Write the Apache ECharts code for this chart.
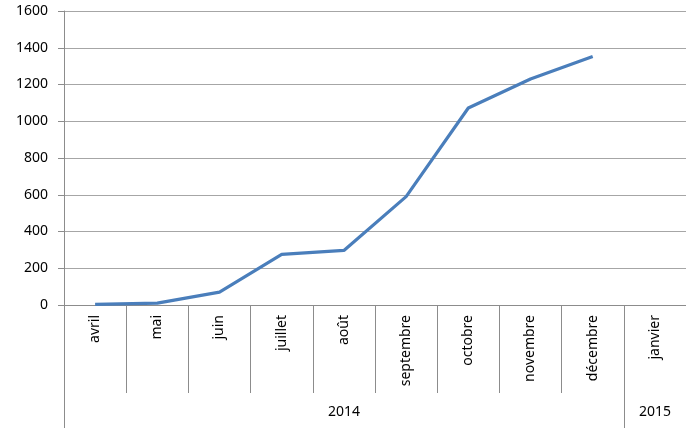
<!DOCTYPE html>
<html>
<head>
<meta charset="utf-8">
<script src="https://cdn.jsdelivr.net/npm/echarts@6/dist/echarts.min.js"></script>
<style>
  html, body { margin: 0; padding: 0; background: #fff; }
  #chart { width: 686px; height: 430px; }
</style>
</head>
<body>
<div id="chart"></div>
<script>
// Months of the period and their cumulative totals
const months = ['avril', 'mai', 'juin', 'juillet', 'août', 'septembre', 'octobre', 'novembre', 'décembre', 'janvier'];
const totals = [3, 10, 70, 276, 297, 590, 1072, 1230, 1352, null];
// Year groups on the second level of the category axis
const years = ['2014', '2015'];
const yearSpans = [9, 1];
const yTicks = [0, 200, 400, 600, 800, 1000, 1200, 1400, 1600];

const axisGray = '#8c8c8c';
const textColor = '#000';
const font = 'Noto Sans';

// Boundaries and centres of the year groups, in category units
const yearBounds = [0];
yearSpans.forEach(s => yearBounds.push(yearBounds[yearBounds.length - 1] + s));
const yearCentres = yearSpans.map((s, i) => yearBounds[i] + s / 2);
// Short separators between months (year boundaries get the long ones)
const monthBounds = months.map((m, i) => i).filter(i => i > 0 && !yearBounds.includes(i));

const chart = echarts.init(document.getElementById('chart'));
chart.setOption({
  animation: false,
  grid: { left: 64, right: 0, top: 11, bottom: 125, containLabel: false },
  xAxis: [
    {
      type: 'category',
      data: months,
      boundaryGap: true,
      axisLine: { show: true, lineStyle: { color: axisGray, width: 1 } },
      axisTick: { show: false },
      axisLabel: { interval: 0, rotate: 90, margin: 10, fontSize: 14, color: textColor, fontFamily: font },
      splitLine: { show: false }
    },
    {
      type: 'value',
      min: 0,
      max: months.length,
      position: 'bottom',
      axisLine: { show: false },
      axisTick: { show: true, customValues: yearBounds.slice(0, -1), length: 123, lineStyle: { color: axisGray } },
      axisLabel: {
        show: true,
        customValues: yearCentres,
        formatter: v => years[yearCentres.indexOf(v)] || '',
        margin: 100,
        fontSize: 14,
        color: textColor,
        fontFamily: font
      },
      splitLine: { show: false }
    },
    {
      type: 'value',
      min: 0,
      max: months.length,
      position: 'bottom',
      axisLine: { show: false },
      axisTick: { show: true, customValues: monthBounds, length: 88, lineStyle: { color: axisGray } },
      axisLabel: { show: false },
      splitLine: { show: false }
    }
  ],
  yAxis: {
    type: 'value',
    min: yTicks[0],
    max: yTicks[yTicks.length - 1],
    interval: 200,
    axisLine: { show: true, lineStyle: { color: axisGray } },
    axisTick: { show: true, length: 6, lineStyle: { color: axisGray } },
    axisLabel: { fontSize: 14, margin: 16, color: textColor, fontFamily: font, formatter: v => String(v) },
    splitLine: { show: true, lineStyle: { color: '#a6a6a6', width: 1 } }
  },
  series: [{
    type: 'line',
    xAxisIndex: 0,
    data: totals,
    showSymbol: false,
    symbol: 'none',
    lineStyle: { color: '#4a7ebb', width: 3.2 },
    z: 3
  }]
});
</script>
</body>
</html>
